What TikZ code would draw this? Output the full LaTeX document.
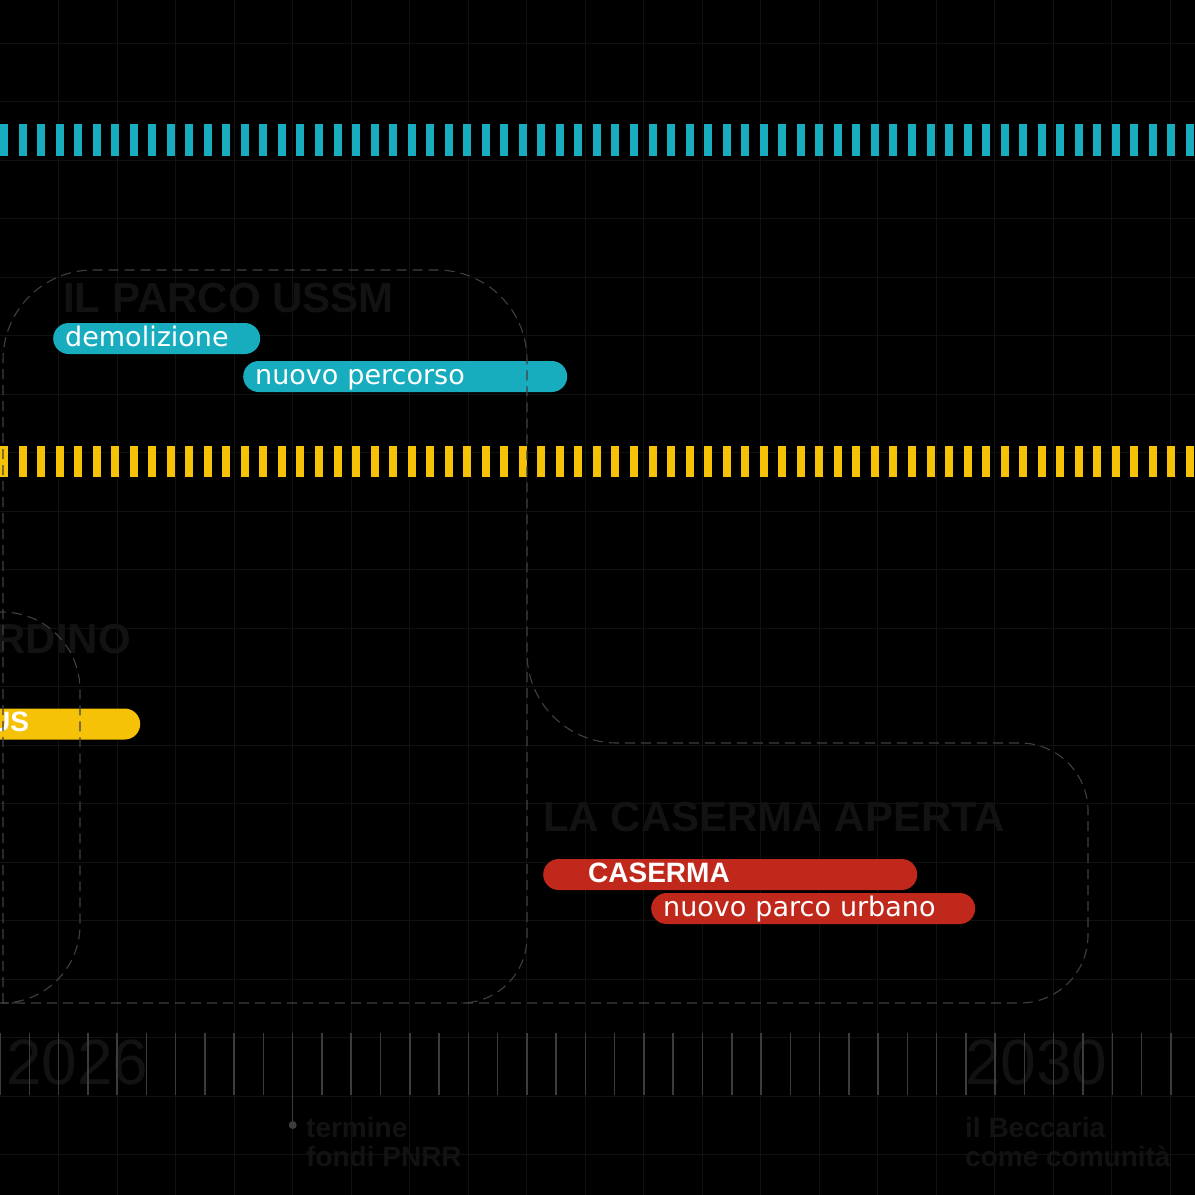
\documentclass[tikz,border=0pt]{standalone}
\usepackage{fontspec}
\setmainfont{Liberation Sans}
\newfontfamily\pillfont{DejaVu Sans}
\usepackage{xcolor}
\definecolor{ussmcyan}{RGB}{23, 172, 190}
\definecolor{giardyellow}{RGB}{246, 194, 8}
\definecolor{casred}{RGB}{193, 40, 28}
\definecolor{ghost}{RGB}{18, 18, 18}
\definecolor{gridgray}{RGB}{17, 17, 17}
\definecolor{tickgray}{RGB}{60, 60, 60}
\definecolor{outlinegray}{RGB}{64, 64, 64}
\usepackage{tikz}
\usetikzlibrary{
    positioning,
    calc
}

\begin{document}
\begin{tikzpicture}[
    x=1pt, y=-1pt,
    every text node part/.style={align=left},
    gridline/.style={draw=gridgray, line width=1pt},
    outline/.style={draw=outlinegray, line width=1.1pt, dash pattern=on 10pt off 6pt},
    pill/.style={anchor=west, rounded corners=15.5pt, minimum height=31pt, inner xsep=12pt, inner ysep=0pt,
        text height=20pt, text depth=5pt, text=white, font=\pillfont\fontsize{27}{30}\selectfont},
    boldpill/.style={pill, font=\bfseries\fontsize{28}{30}\selectfont},
    title/.style={anchor=base west, inner sep=0pt, text=ghost, font=\bfseries\fontsize{42}{46}\selectfont},
    year/.style={anchor=base west, inner sep=0pt, text=ghost, font=\fontsize{64}{68}\selectfont},
    note/.style={anchor=base west, inner sep=0pt, text=ghost, font=\bfseries\fontsize{28}{29}\selectfont},
    tickline/.style={draw=tickgray, line width=1.5pt}
]

\useasboundingbox (0,0) rectangle (1195,1195);
\clip (0,0) rectangle (1195,1195);
\fill[black] (0,0) rectangle (1195,1195);

% ==================== GRID ====================
\foreach \k in {1,...,20}
    \draw[gridline] ({58.5*\k},0) -- ({58.5*\k},1195);
\foreach \k in {0,...,19}
    \draw[gridline] (0,{43+58.5*\k}) -- (1195,{43+58.5*\k});

% ==================== DASHED BANDS ====================
\foreach \k in {0,...,64} {
    \fill[ussmcyan] ({18.53*\k},124) rectangle ++(8,32);
    \fill[giardyellow] ({18.53*\k},446) rectangle ++(8,31);
}

% ==================== TITLES ====================
\node[title] (t_ussm) at (63,312) {IL PARCO USSM};
\node[title, anchor=base east] (t_giardino) at (131,653) {RDINO};
\node[title] (t_caserma) at (543,831) {LA CASERMA APERTA};

% ==================== BARS ====================
\node[pill, fill=ussmcyan, text width=183pt] (demolizione) at (53,338.5) {demolizione};
\node[pill, fill=ussmcyan, text width=300pt] (percorso) at (243,376.5) {nuovo percorso};
\node[boldpill, fill=giardyellow, text width=138pt] (campus) at (-22,724) {US};
\node[boldpill, fill=casred, text width=350pt] (caserma) at (543,874.5) {\hspace*{33pt}CASERMA};
\node[pill, fill=casred, text width=300pt] (parco_urbano) at (651,908.5) {nuovo parco urbano};

% ==================== OUTLINES ====================
\draw[outline] (3,1003) [rounded corners=90pt] -- (3,270) -- (527,270)
    -- (527,743) [rounded corners=68pt] -- (1088,743) -- (1088,1003) -- (0,1003);
\draw[outline, rounded corners=66pt] (527,672) -- (527,1003) -- (461,1003);
\draw[outline] (-100,612) [rounded corners=78pt] -- (80,612)
    -- (80,1003) [rounded corners=66pt] -- (14,1003);

% ==================== TIMELINE ====================
\node[year] (y_2026) at (6,1084) {2026};
\node[year] (y_2030) at (965,1084) {2030};
\foreach \k in {0,...,40}
    \draw[tickline] ({29.27*\k},1033) -- ({29.27*\k},1095);

\coordinate (pnrr_tick) at (292.7,1095);
\node[circle, fill=tickgray, inner sep=0pt, minimum size=8pt] (pnrr_dot) at (292.7,1125) {};
\draw[tickline] (pnrr_tick) -- (pnrr_dot.center);

% multi-line notes sit on the baseline of their last line
\node[note] (n_pnrr) at (306,1166) {termine\\fondi PNRR};
\node[note] (n_beccaria) at (965,1166) {il Beccaria\\come comunità};

\end{tikzpicture}
\end{document}
